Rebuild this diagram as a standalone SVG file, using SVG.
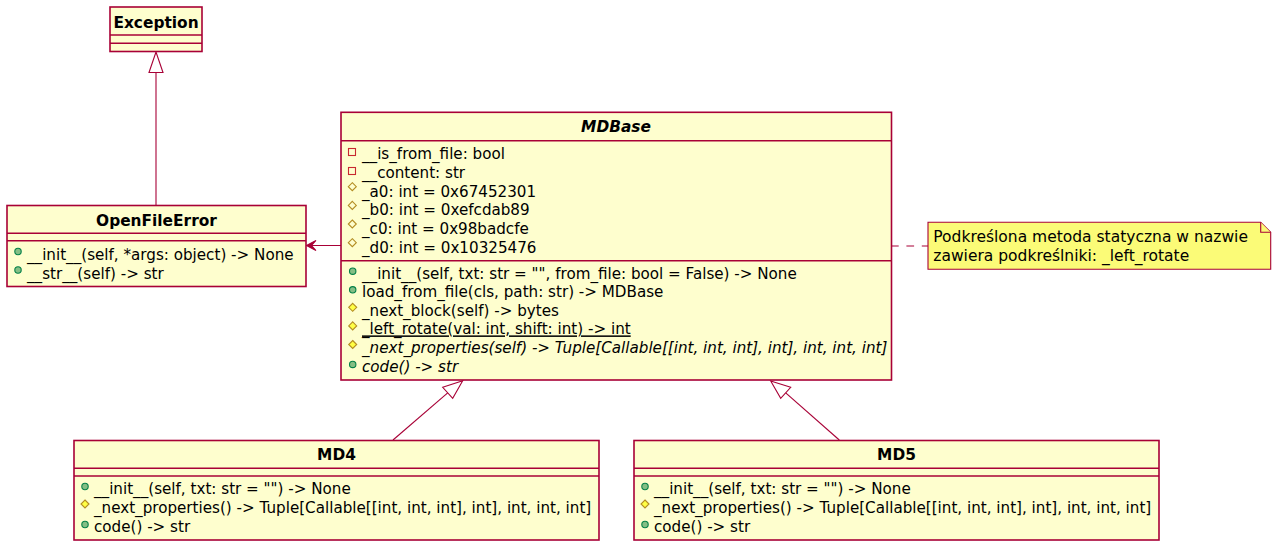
<svg xmlns="http://www.w3.org/2000/svg" width="1276" height="546" viewBox="0 0 1276 546">
  <style>
    .box { fill: #FEFECE; stroke: #A80036; stroke-width: 1.6; }
    .sep { stroke: #A80036; stroke-width: 1.6; fill: none; }
    .note { fill: #FBFB77; stroke: #A80036; stroke-width: 1.1; }
    .edge { stroke: #A80036; stroke-width: 1.1; fill: none; }
    .head { fill: #FFFFFF; stroke: #A80036; stroke-width: 1.1; }
    .arrow { fill: #A80036; stroke: #A80036; stroke-width: 1.1; }
    text { font-family: "DejaVu Sans", "Noto Sans", sans-serif; font-size: 15.15px; fill: #000000; }
    .title { font-size: 15.4px; font-weight: bold; text-anchor: middle; }
    .notetext { font-size: 15.5px; }
    .abstract { font-style: italic; }
    .static { text-decoration: underline; }
    .priv { fill: none; stroke: #C82930; stroke-width: 1.1; }
    .prot-f { fill: none; stroke: #B38D22; stroke-width: 1.1; }
    .pub { fill: #84BE84; stroke: #038048; stroke-width: 1.1; }
    .prot { fill: #FFFF44; stroke: #B38D22; stroke-width: 1.1; }
  </style>
  <defs>
    <rect id="i-priv" class="priv" x="-3.5" y="-3.5" width="7" height="7"/>
    <polygon id="i-prot-f" class="prot-f" points="0,-4 4,0 0,4 -4,0"/>
    <circle id="i-pub" class="pub" r="3.2"/>
    <polygon id="i-prot" class="prot" points="0,-4 4,0 0,4 -4,0"/>
  </defs>

  <!-- connectors -->
  <g id="connectors">
    <!-- OpenFileError extends Exception -->
    <line class="edge" x1="156" y1="205" x2="156" y2="72.5"/>
    <polygon class="head" points="156,52 149,72.5 163,72.5"/>
    <!-- MDBase uses OpenFileError -->
    <line class="edge" x1="341" y1="245.5" x2="308" y2="245.5"/>
    <polygon class="arrow" points="306.5,245.5 316,240.5 311.5,245.5 316,250.5"/>
    <!-- MD4 extends MDBase -->
    <line class="edge" x1="393" y1="440" x2="447.7" y2="392.8"/>
    <polygon class="head" points="462.7,380.7 442.7,387.3 452.7,398.3"/>
    <!-- MD5 extends MDBase -->
    <line class="edge" x1="839.3" y1="440" x2="785.7" y2="392.8"/>
    <polygon class="head" points="770.7,381 790.7,387.3 780.7,398.3"/>
    <!-- note link -->
    <line class="edge" x1="891" y1="246" x2="928" y2="246" stroke-dasharray="7.7,7.7"/>
  </g>

  <!-- Exception -->
  <g id="Exception">
    <rect class="box" x="110" y="7" width="92" height="44.5"/>
    <text class="title" x="156" y="27.5">Exception</text>
    <line class="sep" x1="110" y1="35" x2="202" y2="35"/>
    <line class="sep" x1="110" y1="43.3" x2="202" y2="43.3"/>
  </g>

  <!-- OpenFileError -->
  <g id="OpenFileError">
    <rect class="box" x="7" y="205.5" width="299" height="81"/>
    <text class="title" x="156.5" y="225.5">OpenFileError</text>
    <line class="sep" x1="7" y1="233.3" x2="306" y2="233.3"/>
    <line class="sep" x1="7" y1="240.8" x2="306" y2="240.8"/>
    <use href="#i-pub" x="18" y="251.5"/>
    <text x="27" y="260">__init__(self, *args: object) -&gt; None</text>
    <use href="#i-pub" x="18" y="270"/>
    <text x="27" y="278.6">__str__(self) -&gt; str</text>
  </g>

  <!-- MDBase -->
  <g id="MDBase">
    <rect class="box" x="341" y="112.3" width="550.5" height="267.7"/>
    <text class="title abstract" x="616" y="131.7">MDBase</text>
    <line class="sep" x1="341" y1="140.7" x2="891.5" y2="140.7"/>
    <use href="#i-priv" x="352" y="152"/>
    <text x="362" y="159.3">__is_from_file: bool</text>
    <use href="#i-priv" x="352" y="171"/>
    <text x="362" y="177.9">__content: str</text>
    <use href="#i-prot-f" x="352.3" y="186.7"/>
    <text x="362" y="196.6">_a0: int = 0x67452301</text>
    <use href="#i-prot-f" x="352.3" y="205.4"/>
    <text x="362" y="215.2">_b0: int = 0xefcdab89</text>
    <use href="#i-prot-f" x="352.3" y="224"/>
    <text x="362" y="233.9">_c0: int = 0x98badcfe</text>
    <use href="#i-prot-f" x="352.3" y="242.7"/>
    <text x="362" y="252.5">_d0: int = 0x10325476</text>
    <line class="sep" x1="341" y1="260.7" x2="891.5" y2="260.7"/>
    <use href="#i-pub" x="352.7" y="271.2"/>
    <text x="362" y="278.5">__init__(self, txt: str = &quot;&quot;, from_file: bool = False) -&gt; None</text>
    <use href="#i-pub" x="352.7" y="289.8"/>
    <text x="362" y="297.1">load_from_file(cls, path: str) -&gt; MDBase</text>
    <use href="#i-prot" x="352.7" y="307.3"/>
    <text x="362" y="315.8">_next_block(self) -&gt; bytes</text>
    <use href="#i-prot" x="352.7" y="325.9"/>
    <text class="static" x="362" y="334.4">_left_rotate(val: int, shift: int) -&gt; int</text>
    <use href="#i-prot" x="352.7" y="344.5"/>
    <text class="abstract" x="362" y="353">_next_properties(self) -&gt; Tuple[Callable[[int, int, int], int], int, int, int]</text>
    <use href="#i-pub" x="352.7" y="364.4"/>
    <text class="abstract" x="362" y="371.7">code() -&gt; str</text>
  </g>

  <!-- MD4 -->
  <g id="MD4">
    <rect class="box" x="74" y="440.5" width="525" height="99.5"/>
    <text class="title" x="336.5" y="460">MD4</text>
    <line class="sep" x1="74" y1="468.3" x2="599" y2="468.3"/>
    <line class="sep" x1="74" y1="476" x2="599" y2="476"/>
    <use href="#i-pub" x="85" y="486.5"/>
    <text x="94" y="494.3">__init__(self, txt: str = &quot;&quot;) -&gt; None</text>
    <use href="#i-prot" x="85" y="504"/>
    <text x="94" y="513">_next_properties() -&gt; Tuple[Callable[[int, int, int], int], int, int, int]</text>
    <use href="#i-pub" x="85" y="524.5"/>
    <text x="94" y="531.7">code() -&gt; str</text>
  </g>

  <!-- MD5 -->
  <g id="MD5">
    <rect class="box" x="634" y="440.5" width="525" height="99.5"/>
    <text class="title" x="896.5" y="460">MD5</text>
    <line class="sep" x1="634" y1="468.3" x2="1159" y2="468.3"/>
    <line class="sep" x1="634" y1="476" x2="1159" y2="476"/>
    <use href="#i-pub" x="645" y="486.5"/>
    <text x="654" y="494.3">__init__(self, txt: str = &quot;&quot;) -&gt; None</text>
    <use href="#i-prot" x="645" y="504"/>
    <text x="654" y="513">_next_properties() -&gt; Tuple[Callable[[int, int, int], int], int, int, int]</text>
    <use href="#i-pub" x="645" y="524.5"/>
    <text x="654" y="531.7">code() -&gt; str</text>
  </g>

  <!-- note -->
  <g id="note">
    <path class="note" d="M928,222.3 L1260.7,222.3 L1270.7,232.3 L1270.7,269.3 L928,269.3 Z"/>
    <path class="note" d="M1260.7,222.3 L1260.7,232.3 L1270.7,232.3"/>
    <text class="notetext" x="933.3" y="241.7">Podkreślona metoda statyczna w nazwie</text>
    <text class="notetext" x="933.3" y="260.5">zawiera podkreślniki: _left_rotate</text>
  </g>
</svg>
